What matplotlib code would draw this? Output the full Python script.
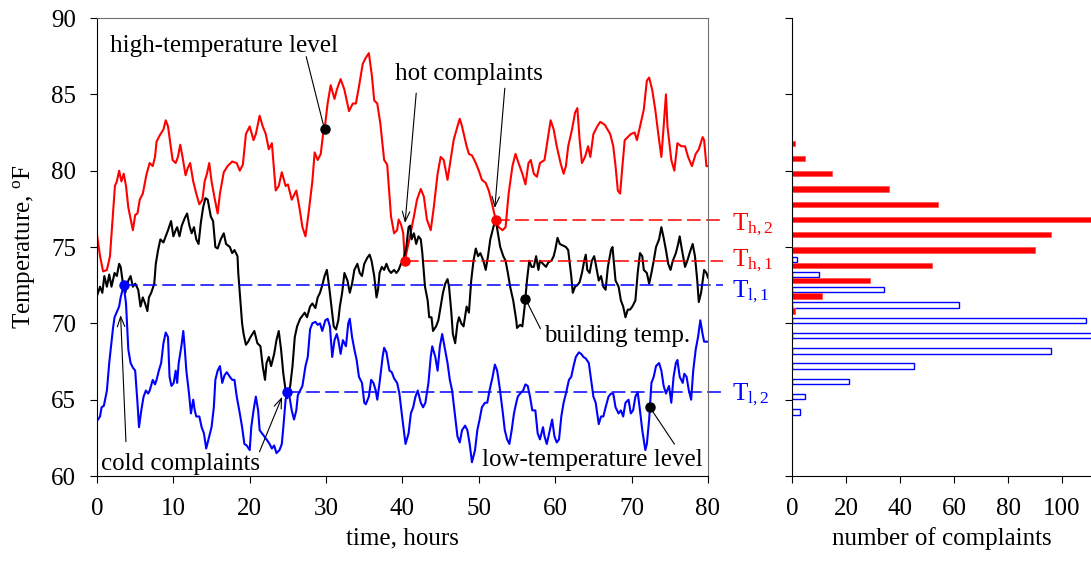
import matplotlib.pyplot as plt
import numpy as np

plt.rcParams['font.family'] = ['Liberation Serif', 'DejaVu Serif']
plt.rcParams['mathtext.fontset'] = 'custom'
plt.rcParams['mathtext.rm'] = 'Liberation Serif'
plt.rcParams['mathtext.it'] = 'Liberation Serif:italic'
plt.rcParams['font.size'] = 18

# high-temperature level (red trace)
red_hours = [0.0, 0.4, 0.8, 1.3, 1.7, 2.1, 2.35, 2.6, 2.9, 3.2, 3.5, 3.8, 4.1, 4.7, 5.0, 5.3, 5.6, 6.0, 6.5, 6.9,
             7.3, 7.6, 7.8, 8.2, 8.7, 9.0, 9.3, 9.6, 9.9, 10.3, 10.6, 10.9, 11.2, 11.6, 11.9, 12.2, 12.6, 13.0,
             13.4, 13.8, 14.1, 14.4, 14.7, 15.0, 15.4, 15.8, 16.1, 16.6, 17.1, 17.7, 18.3, 18.7, 19.1, 19.5,
             20.0, 20.5, 20.8, 21.3, 21.7, 22.1, 22.5, 22.9, 23.4, 23.8, 24.2, 24.7, 25.0, 25.5, 26.1, 26.5,
             26.9, 27.3, 27.7, 28.2, 28.5, 28.9, 29.3, 29.6, 29.8, 30.2, 30.6, 31.1, 31.4, 31.9, 32.4, 33.0,
             33.5, 33.9, 34.3, 34.8, 35.2, 35.6, 36.0, 36.3, 36.7, 37.1, 37.6, 38.0, 38.5, 38.9, 39.3, 39.5,
             39.8, 40.1, 40.3, 40.9, 41.5, 41.9, 42.4, 42.8, 43.2, 43.7, 44.1, 44.6, 45.0, 45.4, 45.9, 46.3,
             46.7, 47.2, 47.5, 47.8, 48.4, 48.7, 49.1, 49.6, 50.0, 50.4, 50.9, 51.3, 51.7, 52.2, 52.6, 53.1,
             53.5, 53.9, 54.4, 54.8, 55.2, 55.7, 56.1, 56.5, 56.8, 57.2, 57.6, 58.0, 58.6, 59.0, 59.4, 59.8,
             60.2, 60.7, 61.1, 61.4, 61.7, 62.2, 62.6, 62.9, 63.2, 63.5, 63.9, 64.3, 64.6, 65.0, 65.5, 65.9,
             66.5, 67.2, 67.6, 67.9, 68.2, 68.5, 68.8, 69.1, 69.5, 69.9, 70.4, 70.7, 71.1, 71.6, 72.0, 72.3,
             72.7, 73.1, 73.5, 73.9, 74.2, 74.5, 74.7, 75.2, 75.6, 76.0, 76.5, 77.0, 77.4, 77.9, 78.4, 78.8,
             79.3, 79.5, 79.8, 80.0]
red_temps = [75.8, 74.4, 73.4, 73.5, 74.4, 77.2, 79.0, 79.3, 80.0, 79.3, 79.8, 79.0, 77.6, 76.1, 77.1, 77.2, 78.1,
             78.5, 79.8, 80.5, 80.3, 80.9, 81.9, 82.3, 82.7, 83.3, 82.9, 81.8, 80.7, 80.5, 80.9, 81.7, 80.9,
             79.7, 80.2, 80.5, 79.3, 78.5, 77.8, 78.1, 79.3, 79.8, 80.5, 79.3, 78.2, 77.2, 78.5, 79.9, 80.3,
             80.6, 80.5, 80.0, 80.4, 82.4, 82.9, 82.0, 82.4, 83.6, 82.9, 82.4, 81.4, 81.8, 78.7, 79.0, 79.9,
             79.0, 79.1, 78.1, 78.7, 77.6, 76.3, 75.7, 77.2, 79.3, 81.2, 80.7, 81.1, 82.4, 82.7, 84.4, 85.6,
             84.7, 85.3, 86.0, 85.3, 83.9, 84.4, 84.4, 85.5, 87.0, 87.4, 87.7, 86.2, 84.6, 84.4, 83.1, 80.7,
             80.4, 77.0, 75.9, 76.1, 76.8, 76.5, 75.9, 74.1, 75.5, 77.0, 78.1, 78.8, 78.3, 76.8, 76.1, 77.6,
             79.8, 80.9, 80.7, 79.4, 80.7, 82.0, 82.9, 83.4, 82.9, 81.6, 81.1, 81.0, 80.5, 80.0, 79.4, 79.2,
             78.7, 77.9, 76.8, 76.3, 76.1, 76.3, 78.5, 80.3, 81.1, 80.5, 79.8, 79.1, 80.5, 80.7, 79.8, 79.6,
             80.5, 80.7, 82.0, 83.3, 82.7, 81.6, 80.5, 79.8, 80.3, 81.6, 82.7, 83.8, 84.1, 82.0, 80.5, 80.9,
             81.6, 80.9, 82.4, 82.9, 83.2, 83.0, 82.4, 81.6, 80.3, 78.7, 78.5, 80.3, 82.0, 82.2, 82.4, 82.5,
             82.0, 82.9, 84.0, 85.9, 86.1, 85.3, 84.0, 82.4, 80.9, 82.9, 85.0, 82.9, 80.7, 80.0, 81.8, 81.6,
             81.6, 80.9, 80.3, 81.1, 81.4, 82.2, 82.0, 80.3, 80.3]

# building temperature (black trace)
bldg_hours = [0.0, 0.4, 0.7, 0.96, 1.3, 1.6, 1.9, 2.3, 2.6, 2.9, 3.1, 3.4, 3.7, 4.1, 4.4, 4.7, 5.0, 5.4, 5.7, 6.0,
              6.3, 6.6, 6.8, 7.1, 7.5, 7.7, 8.0, 8.3, 8.7, 9.0, 9.3, 9.7, 10.0, 10.3, 10.5, 10.8, 11.1, 11.5,
              11.8, 12.1, 12.4, 12.7, 13.0, 13.3, 13.6, 13.9, 14.2, 14.5, 14.9, 15.2, 15.5, 15.8, 16.2, 16.6,
              16.9, 17.4, 17.7, 18.0, 18.4, 18.5, 18.8, 19.0, 19.2, 19.5, 19.8, 20.1, 20.6, 21.0, 21.4, 21.7,
              22.0, 22.2, 22.5, 22.8, 23.2, 23.5, 23.8, 24.1, 24.4, 24.7, 24.9, 25.3, 25.6, 25.9, 26.2, 26.6,
              26.9, 27.2, 27.5, 27.9, 28.2, 28.6, 28.9, 29.2, 29.5, 29.8, 30.1, 30.4, 30.7, 31.0, 31.3, 31.6,
              31.8, 32.1, 32.4, 32.8, 33.1, 33.4, 33.7, 34.1, 34.4, 34.7, 35.0, 35.4, 35.7, 35.95, 36.3, 36.6,
              36.8, 37.0, 37.3, 37.6, 37.9, 38.2, 38.5, 38.9, 39.2, 39.5, 39.8, 40.1, 40.5, 40.8, 41.0, 41.2,
              41.5, 41.8, 42.1, 42.4, 42.6, 42.95, 43.3, 43.5, 43.8, 44.0, 44.4, 44.7, 45.0, 45.3, 45.6, 45.9,
              46.1, 46.4, 46.6, 46.9, 47.2, 47.4, 47.7, 48.0, 48.4, 48.7, 49.0, 49.3, 49.6, 49.9, 50.2, 50.6,
              50.9, 51.2, 51.5, 51.9, 52.2, 52.5, 52.8, 53.2, 53.5, 53.8, 54.1, 54.5, 54.9, 55.0, 55.4, 55.7,
              56.0, 56.3, 56.6, 56.9, 57.2, 57.5, 57.8, 58.0, 58.4, 58.8, 59.1, 59.5, 59.8, 60.0, 60.3, 60.6,
              61.0, 61.4, 61.7, 62.1, 62.3, 62.6, 62.9, 63.2, 63.5, 63.8, 64.0, 64.2, 64.5, 64.8, 65.1, 65.3,
              65.7, 66.0, 66.3, 66.6, 66.9, 67.3, 67.5, 67.7, 67.9, 68.3, 68.6, 68.9, 69.2, 69.5, 69.8, 70.1,
              70.5, 70.8, 71.1, 71.4, 71.6, 72.0, 72.3, 72.6, 72.9, 73.2, 73.6, 73.9, 74.2, 74.5, 74.8, 75.1,
              75.4, 75.8, 76.1, 76.3, 76.6, 77.0, 77.3, 77.6, 78.0, 78.3, 78.6, 78.8, 79.1, 79.5, 79.8, 80.0]
bldg_temps = [71.8, 72.4, 72.0, 73.1, 72.4, 73.2, 72.4, 73.3, 73.1, 73.9, 73.7, 72.6, 72.0, 72.8, 73.1, 72.4, 72.6,
              72.2, 71.1, 71.7, 71.3, 70.8, 71.7, 72.0, 72.6, 73.9, 74.8, 75.5, 75.3, 75.7, 76.1, 76.7, 75.7,
              76.1, 76.3, 75.7, 76.4, 76.9, 77.2, 76.4, 75.9, 76.3, 75.5, 75.2, 76.6, 77.6, 78.2, 78.1, 77.0,
              76.7, 75.0, 74.9, 75.5, 75.9, 75.2, 75.0, 74.6, 74.8, 74.4, 73.3, 71.3, 70.0, 69.3, 68.6, 68.8,
              69.1, 69.5, 68.7, 68.5, 67.2, 66.3, 67.4, 67.8, 67.2, 68.0, 68.9, 69.5, 68.3, 66.7, 65.6, 65.1,
              65.9, 67.2, 69.1, 69.8, 70.3, 70.5, 70.7, 70.4, 71.1, 71.3, 71.0, 71.7, 72.0, 72.5, 73.1, 73.5,
              72.4, 71.1, 69.8, 69.6, 70.2, 71.1, 72.0, 73.3, 72.8, 72.0, 72.6, 73.5, 73.9, 73.3, 73.1, 73.9,
              74.3, 74.5, 74.1, 73.1, 71.7, 72.2, 73.3, 73.7, 73.5, 73.9, 73.5, 73.3, 73.5, 73.3, 73.5, 73.9,
              74.1, 75.0, 76.3, 76.4, 75.5, 75.9, 75.2, 75.7, 75.5, 74.6, 72.4, 71.5, 70.4, 70.4, 69.5, 69.8,
              70.2, 71.1, 72.0, 72.6, 72.9, 72.4, 70.7, 69.3, 68.7, 70.0, 70.4, 70.0, 69.8, 71.1, 70.7, 72.8,
              74.1, 74.9, 74.4, 74.6, 74.1, 73.5, 74.4, 75.5, 76.3, 76.8, 75.9, 75.0, 74.4, 74.1, 73.3, 72.4,
              71.5, 70.2, 69.7, 69.9, 69.8, 71.1, 72.8, 74.1, 73.7, 73.7, 74.4, 73.5, 74.1, 73.9, 73.7, 74.0,
              74.1, 74.4, 74.8, 75.6, 75.2, 75.1, 75.0, 74.8, 73.1, 72.0, 72.4, 72.5, 72.7, 73.3, 74.1, 74.5,
              73.5, 73.3, 74.1, 74.4, 73.9, 72.8, 73.1, 72.4, 72.2, 73.7, 74.8, 75.0, 73.9, 72.8, 72.4, 71.5,
              71.1, 70.4, 70.9, 70.9, 71.1, 71.5, 73.3, 74.6, 74.4, 73.5, 73.3, 72.6, 73.3, 74.1, 75.0, 75.5,
              76.3, 75.6, 74.8, 73.9, 73.5, 74.1, 74.6, 75.2, 75.7, 74.8, 73.7, 74.1, 74.6, 75.2, 74.4, 72.8,
              71.4, 72.0, 73.5, 73.3, 73.0]

# low-temperature level (blue trace)
blue_hours = [0.0, 0.4, 0.6, 0.9, 1.3, 1.6, 1.9, 2.1, 2.3, 2.65, 2.9, 3.1, 3.5, 3.8, 4.1, 4.4, 4.7, 5.0, 5.3, 5.5,
              5.8, 6.1, 6.4, 6.7, 6.9, 7.3, 7.6, 7.8, 8.1, 8.4, 8.7, 9.0, 9.3, 9.5, 9.75, 10.05, 10.3, 10.5,
              10.7, 11.05, 11.3, 11.5, 11.7, 12.05, 12.3, 12.6, 12.8, 13.0, 13.4, 13.7, 14.0, 14.3, 14.7, 15.0,
              15.3, 15.5, 15.8, 16.1, 16.4, 16.7, 17.0, 17.4, 17.7, 18.0, 18.3, 18.7, 19.0, 19.3, 19.6, 20.0,
              20.2, 20.5, 20.8, 21.1, 21.3, 21.6, 21.9, 22.2, 22.6, 22.9, 23.2, 23.5, 23.9, 24.2, 24.4, 24.7,
              24.9, 25.2, 25.5, 25.8, 26.1, 26.3, 26.6, 26.9, 27.3, 27.6, 27.9, 28.2, 28.6, 28.9, 29.2, 29.5,
              29.9, 30.2, 30.5, 30.8, 31.1, 31.4, 31.6, 31.9, 32.2, 32.6, 32.9, 33.1, 33.4, 33.7, 34.0, 34.3,
              34.7, 35.0, 35.2, 35.6, 35.9, 36.2, 36.5, 36.7, 37.0, 37.4, 37.6, 37.9, 38.3, 38.6, 38.9, 39.3,
              39.6, 40.0, 40.4, 40.8, 41.1, 41.4, 41.7, 42.0, 42.4, 42.7, 43.0, 43.4, 43.7, 43.9, 44.3, 44.6,
              44.9, 45.2, 45.5, 45.9, 46.2, 46.5, 46.9, 47.2, 47.5, 47.8, 48.2, 48.5, 48.8, 49.1, 49.5, 49.8,
              50.1, 50.4, 50.8, 51.1, 51.4, 51.8, 52.1, 52.4, 52.7, 53.1, 53.4, 53.7, 54.0, 54.3, 54.6, 54.9,
              55.1, 55.4, 55.8, 56.1, 56.4, 56.7, 57.0, 57.4, 57.7, 58.0, 58.4, 58.6, 58.9, 59.2, 59.6, 59.9,
              60.2, 60.5, 60.8, 61.1, 61.4, 61.8, 62.1, 62.4, 62.7, 63.1, 63.4, 63.7, 64.0, 64.4, 64.7, 65.0,
              65.3, 65.7, 66.0, 66.3, 66.6, 66.98, 67.3, 67.6, 67.9, 68.3, 68.6, 68.9, 69.2, 69.6, 69.9, 70.2,
              70.5, 70.8, 71.1, 71.4, 71.8, 72.0, 72.3, 72.6, 72.9, 73.2, 73.6, 73.9, 74.2, 74.5, 74.9, 75.2,
              75.5, 75.8, 76.0, 76.3, 76.7, 76.9, 77.2, 77.5, 77.8, 78.07, 78.4, 78.7, 79.0, 79.3, 79.5, 79.8,
              80.0]
blue_temps = [63.6, 63.9, 64.5, 64.6, 65.6, 67.4, 68.8, 69.7, 70.4, 70.8, 71.1, 71.7, 72.5, 71.3, 68.3, 67.4, 67.1,
              66.9, 64.8, 63.2, 64.3, 65.2, 65.6, 65.4, 65.6, 66.3, 66.0, 66.3, 66.9, 67.4, 68.7, 69.4, 69.1,
              66.5, 65.9, 66.1, 66.9, 66.1, 67.4, 68.5, 69.5, 68.3, 66.9, 65.4, 64.1, 65.0, 64.3, 63.9, 63.9,
              63.2, 62.8, 61.8, 62.6, 63.2, 64.5, 66.3, 66.9, 67.2, 66.1, 66.6, 66.8, 66.5, 66.3, 66.3, 65.2,
              64.1, 63.2, 62.1, 62.0, 61.7, 63.2, 64.3, 65.2, 64.3, 63.0, 62.8, 62.6, 62.4, 62.1, 61.8, 62.0,
              61.5, 61.7, 62.1, 63.2, 65.0, 65.5, 65.2, 64.3, 63.7, 64.3, 65.3, 65.6, 65.9, 67.2, 67.8, 69.6,
              70.0, 70.1, 69.9, 70.0, 69.5, 70.2, 70.3, 69.8, 67.8, 68.9, 69.3, 68.9, 68.0, 68.9, 68.5, 70.0,
              70.3, 69.1, 68.3, 67.6, 66.5, 66.1, 64.8, 64.7, 65.2, 66.3, 66.1, 65.6, 65.0, 66.1, 67.8, 68.4,
              68.1, 66.9, 66.8, 66.4, 66.1, 65.4, 63.7, 62.1, 62.8, 64.1, 64.5, 65.2, 65.6, 64.8, 64.5, 64.8,
              66.1, 67.8, 68.5, 67.8, 66.9, 68.5, 69.3, 68.5, 67.4, 66.3, 65.6, 63.9, 62.6, 62.2, 63.0, 63.3,
              63.0, 62.1, 60.9, 61.7, 63.0, 63.7, 64.5, 64.8, 64.8, 65.6, 66.5, 67.3, 66.9, 65.9, 64.3, 63.0,
              62.4, 62.1, 63.0, 64.1, 64.8, 65.2, 65.4, 65.6, 66.0, 65.9, 65.2, 64.3, 64.3, 62.8, 62.4, 63.2,
              62.6, 62.1, 62.8, 63.7, 62.6, 62.2, 62.4, 63.9, 64.8, 65.4, 66.3, 66.5, 67.2, 67.8, 68.1, 68.0,
              67.8, 67.7, 67.4, 66.3, 65.2, 64.8, 63.4, 63.9, 63.9, 64.5, 65.2, 65.4, 65.4, 64.5, 64.1, 64.3,
              63.9, 64.8, 65.0, 64.1, 64.3, 65.2, 65.5, 64.3, 63.0, 61.7, 62.1, 63.7, 66.1, 66.5, 67.2, 67.4,
              66.9, 65.9, 65.4, 65.9, 64.8, 66.5, 67.4, 67.6, 66.5, 66.1, 66.7, 66.5, 65.6, 65.0, 66.9, 68.3,
              69.1, 70.2, 69.3, 68.8, 68.8, 68.8]

# complaint events: hot (red) and cold (blue); their levels set the thresholds
hot_hours = [40.3, 52.2]
hot_levels = [74.1, 76.8]
cold_hours = [3.5, 24.9]
cold_levels = [72.5, 65.5]
threshold_names = [r'$\mathrm{T_{h,1}}$', r'$\mathrm{T_{h,2}}$', r'$\mathrm{T_{l,1}}$', r'$\mathrm{T_{l,2}}$']

# complaint counts per 1 degF bin
cold_bins = [64, 65, 66, 67, 68, 69, 70, 71, 72, 73, 74]
cold_counts = [3, 5, 21, 45, 96, 114, 109, 62, 34, 10, 2]
hot_bins = [70, 71, 72, 73, 74, 75, 76, 77, 78, 79, 80, 81]
hot_counts = [1, 11, 29, 52, 90, 96, 115, 54, 36, 15, 5, 1]

fig = plt.figure(figsize=(10.91, 5.63), dpi=100)
ax = fig.add_axes([0.0889, 0.1545, 0.5600, 0.8135])
ah = fig.add_axes([0.7259, 0.1545, 0.2741, 0.8135])

ax.plot(red_hours, red_temps, color='red', lw=1.5)
ax.plot(bldg_hours, bldg_temps, color='black', lw=1.5)
ax.plot(blue_hours, blue_temps, color='blue', lw=1.5)

# threshold lines run from each complaint to the right of the panel
dash = (0, (9, 3.5))
for h, lvl in zip(hot_hours, hot_levels):
    ax.plot([h, 82.0], [lvl, lvl], color='red', lw=1.1, ls=dash, clip_on=False)
for h, lvl in zip(cold_hours, cold_levels):
    ax.plot([h, 82.0], [lvl, lvl], color='blue', lw=1.1, ls=dash, clip_on=False)
ax.plot(hot_hours, hot_levels, 'o', color='red', ms=6.5, zorder=5)
ax.plot(cold_hours, cold_levels, 'o', color='blue', ms=6.5, zorder=5)

label_y = [hot_levels[0] - 0.37, hot_levels[1] - 0.72, cold_levels[0] - 0.77, cold_levels[1] - 0.54]
label_c = ['red', 'red', 'blue', 'blue']
for name, y, c in zip(threshold_names, label_y, label_c):
    ax.text(83.1, y, name, color=c, fontsize=18, va='baseline', ha='left', clip_on=False)

# labelled points on the traces
ax.plot([29.8, 56.1, 72.4], [82.7, 71.6, 64.5], 'o', color='black', ms=6.5, zorder=5)
ax.plot([27.4, 29.8], [87.46, 82.7], color='black', lw=0.8)
ax.plot([56.1, 58.05], [71.6, 69.67], color='black', lw=0.8)
ax.plot([72.4, 75.6], [64.5, 62.1], color='black', lw=0.8)

arrow = dict(arrowstyle='->,head_length=0.4,head_width=0.15', lw=0.8, color='black',
             shrinkA=0, shrinkB=0)
ax.annotate('', xy=(40.34, 76.57), xytext=(41.8, 85.08), arrowprops=arrow)
ax.annotate('', xy=(52.09, 77.55), xytext=(53.4, 85.4), arrowprops=arrow)
ax.annotate('', xy=(3.09, 70.54), xytext=(3.79, 62.25), arrowprops=arrow)
ax.annotate('', xy=(24.24, 65.19), xytext=(21.28, 61.59), arrowprops=arrow)

ax.text(1.7, 87.79, 'high-temperature level', va='baseline')
ax.text(39.0, 85.92, 'hot complaints', va='baseline')
ax.text(0.52, 60.39, 'cold complaints', va='baseline')
ax.text(58.6, 68.8, 'building temp.', va='baseline')
ax.text(50.4, 60.65, 'low-temperature level', va='baseline')

ax.set_xlim(0, 80)
ax.set_ylim(60, 90)
ax.set_xticks(np.arange(0, 81, 10))
ax.set_yticks(np.arange(60, 91, 5))
ax.tick_params(direction='out', length=5, width=0.8, labelsize=18)
ax.tick_params(axis='x', pad=11)
ax.tick_params(axis='y', pad=10)
for side in ['top', 'right']:
    ax.spines[side].set_color('#707070')
ax.set_xlabel('time, hours', fontsize=18, labelpad=5)
ax.set_ylabel(r'Temperature, $^{\mathrm{o}}$F', fontsize=18)
ax.yaxis.set_label_coords(-0.098, 0.5)

# complaint histogram sharing the temperature scale
ah.barh(np.array(cold_bins) + 0.2, cold_counts, height=0.35, left=0,
        facecolor='white', edgecolor='blue', lw=1.0)
ah.barh(np.array(hot_bins) + 0.8, hot_counts, height=0.35, left=0,
        facecolor='red', edgecolor='#ff5555', lw=0.6)
ah.set_xlim(0, 110.7)
ah.set_ylim(60, 90)
ah.set_xticks(np.arange(0, 101, 20))
ah.set_yticks(np.arange(60, 91, 5))
ah.set_yticklabels([])
ah.tick_params(direction='out', length=5, width=0.8, labelsize=18)
ah.tick_params(axis='x', pad=11)
ah.spines['top'].set_visible(False)
ah.spines['right'].set_visible(False)
ah.set_xlabel('number of complaints', fontsize=18, labelpad=5)

fig.savefig('out.png', dpi=100)
